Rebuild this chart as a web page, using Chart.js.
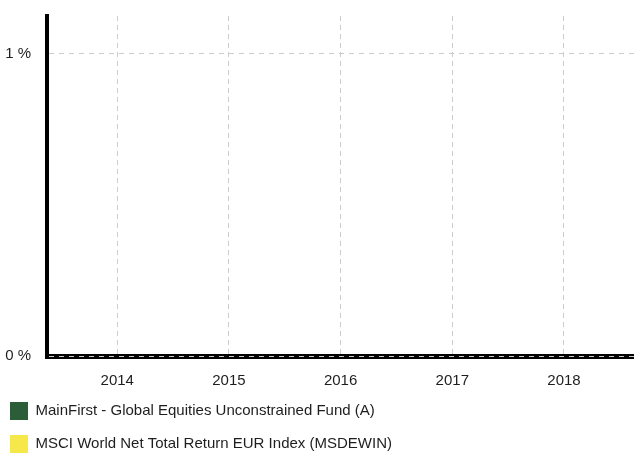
<!DOCTYPE html>
<html>
<head>
<meta charset="utf-8">
<script src="https://cdn.jsdelivr.net/npm/chart.js@4/dist/chart.umd.min.js"></script>
<style>
  html, body { margin: 0; padding: 0; background: #ffffff; }
  #wrap { width: 634px; height: 454px; position: relative; }
</style>
</head>
<body>
<div id="wrap"><canvas id="c"></canvas></div>
<script>
const years = [2014, 2015, 2016, 2017, 2018];
const fundName = 'MainFirst - Global Equities Unconstrained Fund (A)';
const indexName = 'MSCI World Net Total Return EUR Index (MSDEWIN)';
const fundValues = [0, 0, 0, 0, 0];
const indexValues = [0, 0, 0, 0, 0];
const yTickValues = [0, 1];

const FONT = "'Liberation Sans', Arial, sans-serif";
const TEXT = '#1e1e1e';

new Chart(document.getElementById('c'), {
  type: 'bar',
  data: {
    datasets: [
      { label: fundName, data: years.map((y, i) => ({ x: y, y: fundValues[i] })), backgroundColor: '#2b5d38', borderWidth: 0 },
      { label: indexName, data: years.map((y, i) => ({ x: y, y: indexValues[i] })), backgroundColor: '#f6e84a', borderWidth: 0 }
    ]
  },
  options: {
    responsive: true,
    maintainAspectRatio: false,
    animation: false,
    layout: { padding: { left: -5, right: 0, top: 16, bottom: -9 } },
    plugins: {
      tooltip: { enabled: false },
      legend: {
        position: 'bottom',
        align: 'start',
        labels: {
          color: TEXT,
          font: { family: FONT, size: 15 },
          boxWidth: 18,
          boxHeight: 18,
          padding: 15
        }
      }
    },
    scales: {
      x: {
        type: 'linear',
        offset: false,
        min: 2013.371,
        max: 2018.627,
        afterBuildTicks(scale) { scale.ticks = years.map(v => ({ value: v })); },
        afterFit(scale) {
          scale.height = 31;
          scale.paddingLeft = 0; scale.paddingRight = 0;
          scale.paddingTop = 0; scale.paddingBottom = 0;
        },
        ticks: {
          color: TEXT,
          font: { family: FONT, size: 15 },
          padding: 16,
          maxRotation: 0,
          callback: (v) => String(v)
        },
        grid: {
          color: '#cccccc',
          lineWidth: 1,
          drawTicks: false,
          offset: false,
          z: -1
        },
        border: { display: true, color: '#000000', width: 5, dash: [5, 4], z: 0 }
      },
      y: {
        min: 0,
        max: 1.1258,
        afterBuildTicks(scale) { scale.ticks = yTickValues.map(v => ({ value: v })); },
        afterFit(scale) {
          scale.width = 52;
          scale.paddingLeft = 0; scale.paddingRight = 0;
          scale.paddingTop = 0; scale.paddingBottom = 0;
        },
        ticks: {
          color: TEXT,
          font: { family: FONT, size: 15 },
          padding: 16,
          callback: (v) => v + ' %'
        },
        grid: {
          color: '#cccccc',
          lineWidth: 1,
          drawTicks: false,
          z: 1
        },
        border: { display: true, color: '#000000', width: 4, dash: [5, 5], z: 2 }
      }
    }
  }
});
</script>
</body>
</html>
